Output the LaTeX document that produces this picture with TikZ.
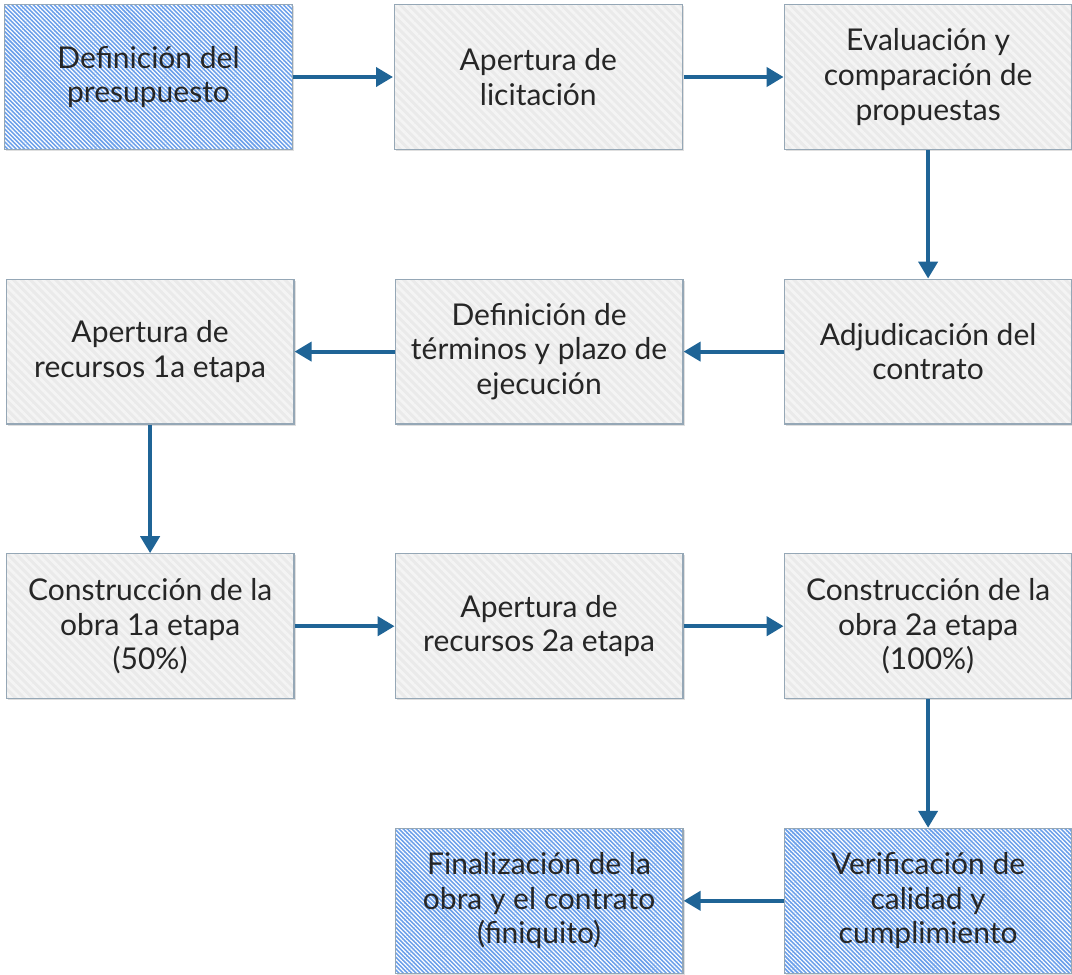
\documentclass[tikz,border=0pt]{standalone}
\usepackage{fontspec}
\setmainfont{Lato}
\usetikzlibrary{positioning,arrows.meta,patterns.meta,shadows}
\definecolor{flowArrow}{HTML}{1F6496}
\definecolor{flowEdge}{HTML}{95A7B6}
\definecolor{flowBlue}{HTML}{6A9FEA}
\definecolor{flowGray}{HTML}{EAEAEA}
\definecolor{flowGrayLine}{HTML}{F4F4F4}
\definecolor{flowText}{HTML}{262626}

\begin{document}
\begin{tikzpicture}[font=\fontsize{15pt}{17.3pt}\selectfont, >={Triangle[length=8.5pt,width=9.5pt]},
    node distance=64.3pt and 50pt,
    stage/.style={draw=flowEdge, line width=0.6pt, text=flowText, align=center,
      minimum width=143.9pt, minimum height=72.4pt, inner sep=2pt,
      drop shadow={shadow xshift=0.8pt, shadow yshift=-0.8pt, opacity=0.25}},
    plain/.style={stage, preaction={fill=flowGray},
      pattern={Lines[angle=-45, distance=3pt, line width=1.4pt]}, pattern color=flowGrayLine},
    key/.style={stage, preaction={fill=flowBlue},
      pattern={Lines[angle=-45, distance=1.5pt, line width=0.6pt]}, pattern color=white},
    flow/.style={->, draw=flowArrow, line width=2pt}]
  \useasboundingbox (0,0) rectangle (536pt,-487.5pt);
  % row 1
  \node[key] (budget) at (74.25pt,-38.5pt) {Definición del\\presupuesto};
  \node[plain, right=of budget] (tender) {Apertura de\\licitación};
  \node[plain, right=of tender] (review) {Evaluación y\\comparación de\\propuestas};
  % row 2
  \node[plain, below=of review] (award) {Adjudicación del\\contrato};
  \node[plain, left=of award] (terms) {Definición de\\términos y plazo de\\ejecución};
  \node[plain, left=of terms] (fundsA) {Apertura de\\recursos 1a etapa};
  % row 3
  \node[plain, below=of fundsA] (buildA) {Construcción de la\\obra 1a etapa\\(50\%)};
  \node[plain, right=of buildA] (fundsB) {Apertura de\\recursos 2a etapa};
  \node[plain, right=of fundsB] (buildB) {Construcción de la\\obra 2a etapa\\(100\%)};
  % row 4
  \node[key, below=of buildB] (check) {Verificación de\\calidad y\\cumplimiento};
  \node[key, left=of check] (close) {Finalización de la\\obra y el contrato\\(finiquito)};
  % connectors
  \draw[flow] (budget) -- (tender); \draw[flow] (tender) -- (review);
  \draw[flow] (review) -- (award); \draw[flow] (award) -- (terms);
  \draw[flow] (terms) -- (fundsA); \draw[flow] (fundsA) -- (buildA);
  \draw[flow] (buildA) -- (fundsB); \draw[flow] (fundsB) -- (buildB);
  \draw[flow] (buildB) -- (check); \draw[flow] (check) -- (close);
\end{tikzpicture}
\end{document}
